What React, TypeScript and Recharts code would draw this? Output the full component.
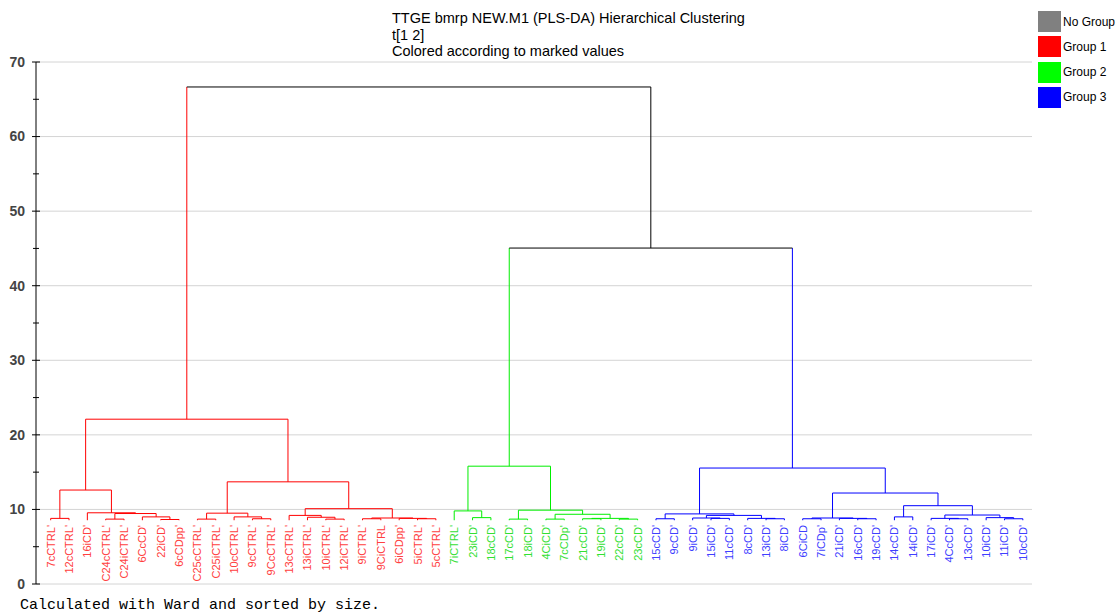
import React from "react"
import { LineChart, Line, XAxis, YAxis, ReferenceLine } from "recharts"

const GROUP1_LEAVES = [
  "7cCTRL'", "12cCTRL'", "16iCD'", "C24cCTRL'", "C24iCTRL'", "6CcCD'", "22iCD'", "6cCDpp'",
  "C25cCTRL'", "C25iCTRL'", "10cCTRL'", "9cCTRL'", "9CcCTRL'", "13cCTRL'", "13iCTRL'",
  "10iCTRL'", "12iCTRL'", "9iCTRL'", "9CiCTRL", "6iCDpp'", "5iCTRL'", "5cCTRL'",
]
const GROUP2_LEAVES = [
  "7iCTRL'", "23iCD'", "18cCD'", "17cCD'", "18iCD'", "4CiCD'", "7cCDp'", "21cCD'", "19iCD'",
  "22cCD'", "23cCD'",
]
const GROUP3_LEAVES = [
  "15cCD'", "9cCD'", "9iCD'", "15iCD'", "11cCD'", "8cCD'", "13iCD'", "8iCD'", "6CiCD", "7iCDp'",
  "21iCD'", "16cCD'", "19cCD'", "14cCD'", "14iCD'", "17iCD'", "4CcCD'", "13cCD'", "10iCD'",
  "11iCD'", "10cCD'",
]

const LEAF_HEIGHT = 8.55

// [node, left, right, distance] - numbers are leaf positions, strings are earlier nodes
const MERGES: [string, number | string, number | string, number][] = [
  // group 1
  ["a", 0, 1, 8.8],
  ["b", 3, 4, 8.7],
  ["c", 6, 7, 8.65],
  ["d", 5, "c", 9.0],
  ["e", "b", "d", 9.45],
  ["f", 2, "e", 9.55],
  ["redLeft", "a", "f", 12.6],
  ["g", 8, 9, 8.7],
  ["h", 11, 12, 8.75],
  ["i", 10, "h", 9.0],
  ["j", "g", "i", 9.5],
  ["k", 15, 16, 8.7],
  ["l", 14, "k", 8.95],
  ["m", 13, "l", 9.2],
  ["n", 17, 18, 8.75],
  ["o", 20, 21, 8.75],
  ["p", 19, "o", 8.8],
  ["q", "n", "p", 8.85],
  ["r", "m", "q", 10.1],
  ["redRight", "j", "r", 13.7],
  ["red", "redLeft", "redRight", 22.1],
  // group 2
  ["s", 23, 24, 8.9],
  ["t", 22, "s", 9.8],
  ["u", 25, 26, 8.7],
  ["v", 27, 28, 8.7],
  ["w", 29, 30, 8.75],
  ["x", 31, 32, 8.7],
  ["y", "w", "x", 8.8],
  ["z", "v", "y", 9.35],
  ["aa", "u", "z", 9.9],
  ["green", "t", "aa", 15.8],
  // group 3
  ["ba", 33, 34, 8.75],
  ["bb", 36, 37, 8.8],
  ["bc", 35, "bb", 8.85],
  ["bd", 39, 40, 8.75],
  ["be", 38, "bd", 8.8],
  ["bf", "bc", "be", 9.2],
  ["bg", "ba", "bf", 9.4],
  ["bh", 41, 42, 8.75],
  ["bi", 44, 45, 8.75],
  ["bj", 43, "bi", 8.8],
  ["bk", "bh", "bj", 8.85],
  ["bl", 46, 47, 9.0],
  ["bm", 49, 50, 8.75],
  ["bn", 48, "bm", 8.8],
  ["bo", 52, 53, 8.75],
  ["bp", 51, "bo", 8.9],
  ["bq", "bn", "bp", 9.25],
  ["br", "bl", "bq", 10.5],
  ["bs", "bk", "br", 12.2],
  ["blue", "bg", "bs", 15.55],
  // joins across groups
  ["greenBlue", "green", "blue", 45.05],
  ["root", "red", "greenBlue", 66.65],
]

const Y_TICKS = [0, 5, 10, 15, 20, 25, 30, 35, 40, 45, 50, 55, 60, 65, 70]
const GRID_VALUES = [0, 10, 20, 30, 40, 50, 60, 70]

const TITLE_LINES = [
  "TTGE bmrp NEW.M1 (PLS-DA) Hierarchical Clustering",
  "t[1 2]",
  "Colored according to marked values",
]
const LEGEND_LABELS = ["No Group", "Group 1", "Group 2", "Group 3"]
const LEGEND_COLORS = ["#808080", "#ff0000", "#00ff00", "#0000ff"]
const FOOTNOTE = "Calculated with Ward and sorted by size."

const LINE_COLORS = ["#000000", "#ff0000", "#00ee00", "#0000ff"]
const LABEL_COLORS = ["#000000", "#ff4040", "#33e033", "#4040ff"]
const SANS = "Arial, 'Liberation Sans', sans-serif"

const LEAVES = [...GROUP1_LEAVES, ...GROUP2_LEAVES, ...GROUP3_LEAVES]
const LEAF_GROUP = [
  ...GROUP1_LEAVES.map(() => 1),
  ...GROUP2_LEAVES.map(() => 2),
  ...GROUP3_LEAVES.map(() => 3),
]
const LEAF_TICKS = LEAVES.map((_, i) => i)

type Pos = { x: number; h: number; g: number }
type Segment = { g: number; pts: { x: number; y: number }[] }

const buildSegments = () => {
  const nodes: Record<string, Pos> = {}
  const at = (ref: number | string): Pos =>
    typeof ref === "number" ? { x: ref, h: LEAF_HEIGHT, g: LEAF_GROUP[ref] } : nodes[ref]
  const segs: Segment[] = []
  MERGES.forEach(([id, l, r, h]) => {
    const L = at(l)
    const R = at(r)
    const g = L.g === R.g ? L.g : 0
    if (g) {
      segs.push({ g, pts: [{ x: L.x, y: L.h }, { x: L.x, y: h }, { x: R.x, y: h }, { x: R.x, y: R.h }] })
    } else {
      segs.push({ g: L.g, pts: [{ x: L.x, y: L.h }, { x: L.x, y: h }] })
      segs.push({ g: R.g, pts: [{ x: R.x, y: R.h }, { x: R.x, y: h }] })
      segs.push({ g: 0, pts: [{ x: L.x, y: h }, { x: R.x, y: h }] })
    }
    nodes[id] = { x: (L.x + R.x) / 2, h, g }
  })
  return segs
}

const SEGMENTS = buildSegments()

const YTick = ({ x, y, payload }: any) => {
  const v = payload.value
  const major = v % 10 === 0
  const half = major ? 4 : 3
  return (
    <g>
      <line x1={x - half} x2={x + half} y1={y} y2={y} stroke="#000" />
      {major && (
        <text x={x - 11} y={y} dy="0.35em" textAnchor="end" fontSize={14} fontWeight="bold" fill="#444" fontFamily={SANS}>
          {v}
        </text>
      )}
    </g>
  )
}

const LeafTick = ({ x, y, payload }: any) => {
  const i = payload.value
  const tx = x + 4
  const ty = y - 59
  return (
    <text
      x={tx}
      y={ty}
      transform={`rotate(-90 ${tx} ${ty})`}
      textAnchor="end"
      fontSize={11}
      fill={LABEL_COLORS[LEAF_GROUP[i]]}
      fontFamily={SANS}
    >
      {LEAVES[i]}
    </text>
  )
}

export default function App() {
  return (
    <div style={{ position: "absolute", left: 0, top: 0, width: 1118, height: 613, background: "#fff" }}>
      <LineChart width={1118} height={613} margin={{ top: 62, right: 86, bottom: 0, left: 0 }}>
        <XAxis
          type="number"
          dataKey="x"
          domain={[-0.8, 53.5]}
          ticks={LEAF_TICKS}
          interval={0}
          height={29}
          axisLine={false}
          tickLine={false}
          tickSize={0}
          tickMargin={0}
          tick={<LeafTick />}
        />
        <YAxis
          type="number"
          domain={[0, 70]}
          ticks={Y_TICKS}
          interval={0}
          width={36}
          axisLine={{ stroke: "#000" }}
          tickLine={false}
          tickSize={0}
          tickMargin={0}
          tick={<YTick />}
        />
        {GRID_VALUES.map(v => (
          <ReferenceLine key={`grid-${v}`} y={v} stroke="#d4d4d4" />
        ))}
        {SEGMENTS.map((s, idx) => (
          <Line
            key={`seg-${idx}`}
            data={s.pts}
            dataKey="y"
            type="linear"
            stroke={LINE_COLORS[s.g]}
            strokeWidth={1}
            dot={false}
            activeDot={false}
            isAnimationActive={false}
          />
        ))}
      </LineChart>

      <div style={{ position: "absolute", left: 392, top: 10, fontFamily: SANS, fontSize: 14.5, lineHeight: "16.5px", color: "#000" }}>
        {TITLE_LINES.map(t => (
          <div key={t} style={{ whiteSpace: "nowrap" }}>{t}</div>
        ))}
      </div>

      <div style={{ position: "absolute", left: 1038, top: 11 }}>
        {LEGEND_LABELS.map((label, i) => (
          <div key={label} style={{ display: "flex", alignItems: "center", height: 21, marginBottom: 4.3 }}>
            <div style={{ width: 23, height: 21, background: LEGEND_COLORS[i] }} />
            <span style={{ marginLeft: 2, fontFamily: SANS, fontSize: 12, color: "#000", whiteSpace: "nowrap" }}>{label}</span>
          </div>
        ))}
      </div>

      <div
        style={{
          position: "absolute",
          left: 20,
          top: 597.5,
          fontFamily: "'Courier New', 'Liberation Mono', monospace",
          fontSize: 15,
          lineHeight: "15px",
          color: "#000",
          whiteSpace: "nowrap",
        }}
      >
        {FOOTNOTE}
      </div>
    </div>
  )
}
